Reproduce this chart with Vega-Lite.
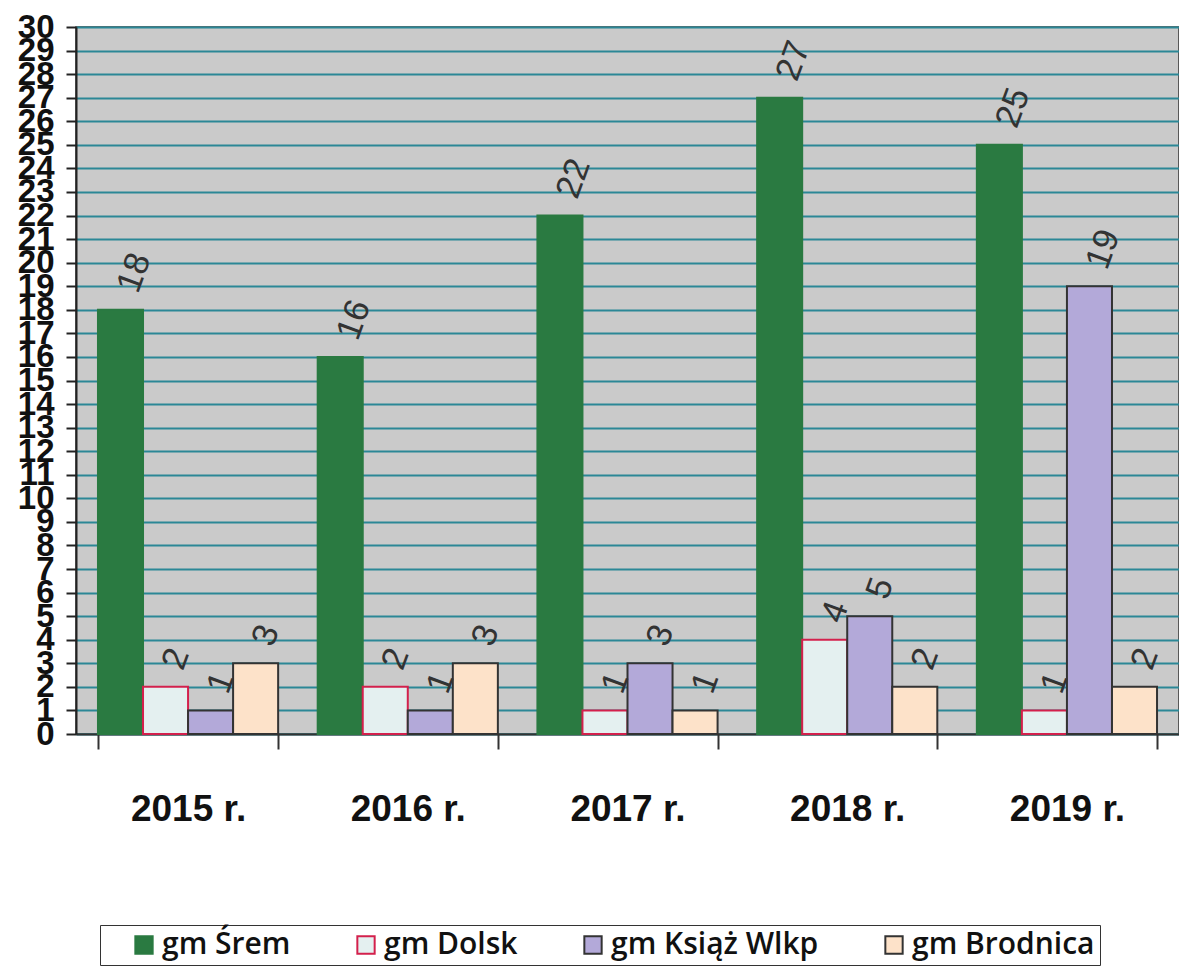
{
  "$schema": "https://vega.github.io/schema/vega-lite/v6.json",
  "autosize": "none",
  "width": 1103,
  "height": 707,
  "padding": {"left": 76, "top": 27, "right": 0, "bottom": 238},
  "background": "white",
  "config": {
    "view": {"fill": "#cacaca", "stroke": "#333", "strokeWidth": 1.5}
  },
  "data": {
    "values": [
      {"rok": "2015 r.", "gmina": "gm Śrem", "liczba": 18},
      {"rok": "2015 r.", "gmina": "gm Dolsk", "liczba": 2},
      {"rok": "2015 r.", "gmina": "gm Książ Wlkp", "liczba": 1},
      {"rok": "2015 r.", "gmina": "gm Brodnica", "liczba": 3},
      {"rok": "2016 r.", "gmina": "gm Śrem", "liczba": 16},
      {"rok": "2016 r.", "gmina": "gm Dolsk", "liczba": 2},
      {"rok": "2016 r.", "gmina": "gm Książ Wlkp", "liczba": 1},
      {"rok": "2016 r.", "gmina": "gm Brodnica", "liczba": 3},
      {"rok": "2017 r.", "gmina": "gm Śrem", "liczba": 22},
      {"rok": "2017 r.", "gmina": "gm Dolsk", "liczba": 1},
      {"rok": "2017 r.", "gmina": "gm Książ Wlkp", "liczba": 3},
      {"rok": "2017 r.", "gmina": "gm Brodnica", "liczba": 1},
      {"rok": "2018 r.", "gmina": "gm Śrem", "liczba": 27},
      {"rok": "2018 r.", "gmina": "gm Dolsk", "liczba": 4},
      {"rok": "2018 r.", "gmina": "gm Książ Wlkp", "liczba": 5},
      {"rok": "2018 r.", "gmina": "gm Brodnica", "liczba": 2},
      {"rok": "2019 r.", "gmina": "gm Śrem", "liczba": 25},
      {"rok": "2019 r.", "gmina": "gm Dolsk", "liczba": 1},
      {"rok": "2019 r.", "gmina": "gm Książ Wlkp", "liczba": 19},
      {"rok": "2019 r.", "gmina": "gm Brodnica", "liczba": 2}
    ]
  },
  "encoding": {
    "x": {
      "field": "rok", "type": "nominal", "sort": null,
      "scale": {"paddingInner": 0.18, "paddingOuter": 0.1},
      "axis": {
        "title": null, "labelAngle": 0, "domainColor": "#333", "domainWidth": 2,
        "tickBand": "extent", "tickSize": 15, "tickColor": "#333", "tickWidth": 2,
        "labelFont": "Liberation Sans", "labelFontWeight": "bold", "labelFontSize": 37,
        "labelColor": "#111", "labelPadding": 42
      }
    },
    "xOffset": {"field": "gmina", "type": "nominal", "sort": ["gm Śrem", "gm Dolsk", "gm Książ Wlkp", "gm Brodnica"]},
    "y": {
      "field": "liczba", "type": "quantitative",
      "scale": {"domain": [0, 30], "nice": false},
      "axis": {
        "title": null,
        "values": [0,1,2,3,4,5,6,7,8,9,10,11,12,13,14,15,16,17,18,19,20,21,22,23,24,25,26,27,28,29,30],
        "labelOverlap": false, "labelBound": false, "labelFlush": false,
        "labelFont": "Liberation Sans", "labelFontWeight": "bold", "labelFontSize": 33,
        "labelColor": "#111", "labelPadding": 12,
        "tickSize": 10, "tickColor": "#222", "tickWidth": 2,
        "domainColor": "#222", "domainWidth": 2,
        "grid": true, "gridColor": "#2b8796", "gridWidth": 2.2, "gridOpacity": 1
      }
    }
  },
  "layer": [
    {
      "mark": {"type": "bar", "strokeWidth": 2},
      "encoding": {
        "fill": {
          "field": "gmina", "type": "nominal",
          "scale": {
            "domain": ["gm Śrem", "gm Dolsk", "gm Książ Wlkp", "gm Brodnica"],
            "range": ["#2a7a41", "#e4f0f0", "#b3a9d9", "#fde2c9"]
          },
          "legend": {
            "title": null, "orient": "none", "legendX": 24, "legendY": 898,
            "direction": "horizontal", "columns": 4, "columnPadding": 36, "gridAlign": "none",
            "strokeColor": "#333", "padding": 5, "symbolOffset": 24,
            "symbolType": "square", "symbolSize": 300, "symbolStrokeWidth": 2,
            "labelFont": "Open Sans", "labelFontWeight": 600, "labelFontSize": 30,
            "labelLimit": 500, "labelColor": "#111", "labelOffset": 3
          }
        },
        "stroke": {
          "field": "gmina", "type": "nominal",
          "scale": {
            "domain": ["gm Śrem", "gm Dolsk", "gm Książ Wlkp", "gm Brodnica"],
            "range": ["#2a7a41", "#d3204c", "#333333", "#333333"]
          },
          "legend": {
            "title": null, "orient": "none", "legendX": 24, "legendY": 898,
            "direction": "horizontal", "columns": 4, "columnPadding": 36, "gridAlign": "none",
            "strokeColor": "#333", "padding": 5, "symbolOffset": 24,
            "symbolType": "square", "symbolSize": 300, "symbolStrokeWidth": 2,
            "labelFont": "Open Sans", "labelFontWeight": 600, "labelFontSize": 30,
            "labelLimit": 500, "labelColor": "#111", "labelOffset": 3
          }
        }
      }
    },
    {
      "mark": {
        "type": "text", "angle": -70, "align": "left", "baseline": "middle",
        "dx": 20, "font": "Liberation Sans", "fontSize": 35, "color": "#333"
      },
      "encoding": {
        "text": {"field": "liczba", "type": "quantitative"}
      }
    }
  ]
}
